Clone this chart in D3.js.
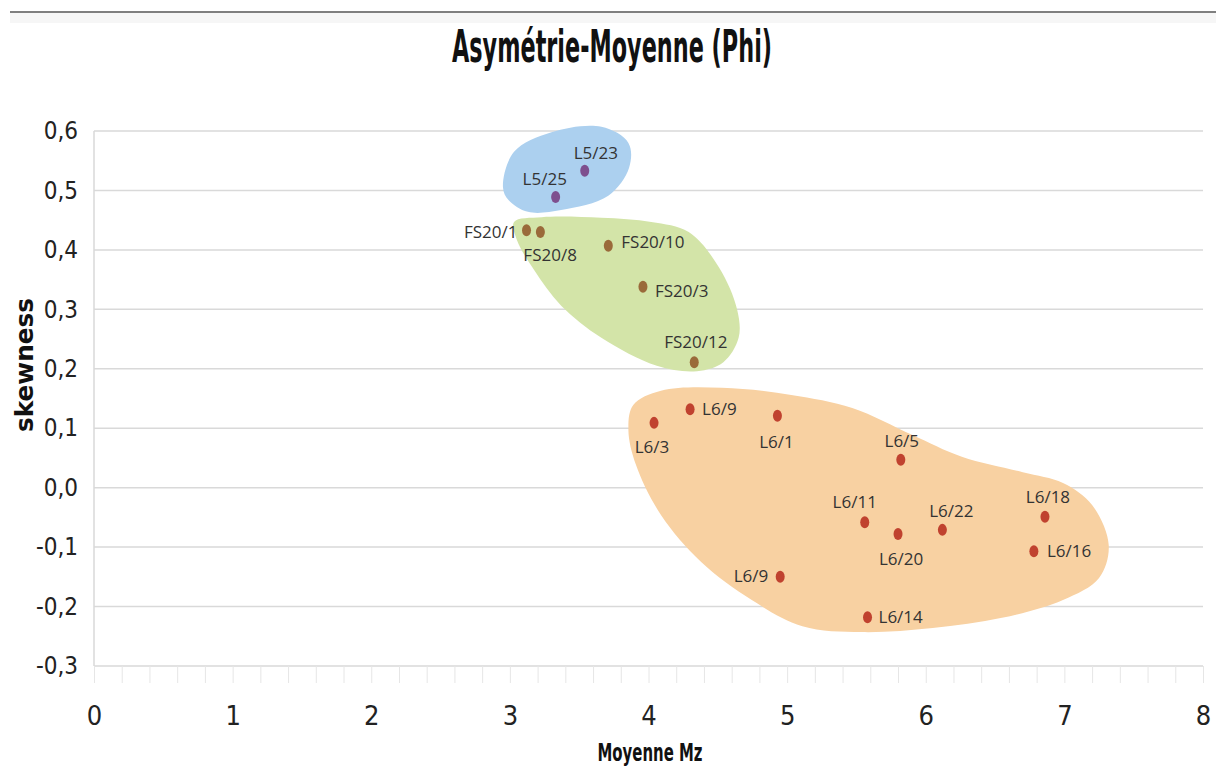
<!DOCTYPE html>
<html>
<head>
<meta charset="utf-8">
<script src="https://cdn.jsdelivr.net/npm/d3@7"></script>
<style>
  body { margin: 0; background: #fff; }
  .narrow { font-family: "Liberation Sans Narrow", "DejaVu Sans Condensed", "Roboto Condensed", sans-serif; font-stretch: condensed; }
</style>
</head>
<body>
<div id="chart"></div>
<script>
// sample labels and values (Mz, skewness)
var names = ["L5/23", "L5/25",
  "FS20/1", "FS20/8", "FS20/10", "FS20/3", "FS20/12",
  "L6/3", "L6/9", "L6/1", "L6/5", "L6/11", "L6/20", "L6/22", "L6/18", "L6/16", "L6/9", "L6/14"];
var groups = ["L5", "L5",
  "FS20", "FS20", "FS20", "FS20", "FS20",
  "L6", "L6", "L6", "L6", "L6", "L6", "L6", "L6", "L6", "L6", "L6"];
var mz = [3.54, 3.33,
  3.12, 3.22, 3.71, 3.96, 4.33,
  4.04, 4.30, 4.93, 5.82, 5.56, 5.80, 6.12, 6.86, 6.78, 4.95, 5.58];
var skew = [0.533, 0.489,
  0.433, 0.430, 0.407, 0.338, 0.211,
  0.109, 0.132, 0.121, 0.047, -0.058, -0.078, -0.071, -0.049, -0.107, -0.150, -0.218];

// hand drawn group outlines, in data units
var blobL5 = [[2.95,0.506],[3.03,0.565],[3.30,0.598],[3.66,0.607],[3.855,0.580],[3.86,0.538],
  [3.71,0.491],[3.37,0.467],[3.13,0.464],[2.99,0.484]];
var blobFS20 = [[3.03,0.447],[3.23,0.455],[3.66,0.454],[4.02,0.447],[4.29,0.430],[4.51,0.370],
  [4.64,0.299],[4.65,0.252],[4.54,0.211],[4.35,0.196],[4.06,0.205],[3.66,0.252],[3.37,0.306],
  [3.175,0.366],[3.05,0.417]];
var blobL6 = [[3.89,0.139],[4.09,0.163],[4.53,0.168],[5.03,0.156],[5.47,0.134],[5.90,0.089],
  [6.26,0.052],[6.70,0.026],[6.99,0.008],[7.20,-0.029],[7.32,-0.097],[7.25,-0.152],[6.99,-0.189],
  [6.55,-0.219],[6.05,-0.236],[5.54,-0.243],[5.11,-0.233],[4.745,-0.189],[4.38,-0.125],
  [4.09,-0.046],[3.91,0.038],[3.855,0.097]];

var xTicks = [0, 1, 2, 3, 4, 5, 6, 7, 8];
var yTicks = [0.6, 0.5, 0.4, 0.3, 0.2, 0.1, 0.0, -0.1, -0.2, -0.3];

// label placement for each point: anchor, dx, dy
var labelPos = [["start",-11,-12],["start",-33,-12],
  ["end",-9,8],["start",-17,29],["start",13,2],["start",12,10],["start",-30,-14],
  ["middle",-2,30],["start",12,6],["middle",-1,32],["middle",1,-13],["middle",-10,-14],
  ["middle",3,31],["middle",9,-13],["middle",3,-14],["start",13,6],["end",-12,5],["start",11,6]];

var dotColor = {"L5": "#7e4f8e", "FS20": "#9a6a3a", "L6": "#c0422f"};

var svgWidth = 1216, svgHeight = 776;
var svg = d3.select("#chart").append("svg")
  .attr("width", svgWidth)
  .attr("height", svgHeight);

// top rule
svg.append("rect").attr("x", 10).attr("y", 13).attr("width", svgWidth - 10).attr("height", 10)
  .attr("fill", "#f6f6f6");
svg.append("line").attr("x1", 10).attr("x2", svgWidth).attr("y1", 12).attr("y2", 12)
  .attr("stroke", "#7f7f7f").attr("stroke-width", 2);

var x = d3.scaleLinear().domain([0, 8]).range([94, 1203]);
var y = d3.scaleLinear().domain([-0.3, 0.6]).range([666, 131]);

// gridlines
svg.append("g").selectAll("line").data(yTicks).enter().append("line")
  .attr("x1", x(0)).attr("x2", x(8))
  .attr("y1", d => y(d)).attr("y2", d => y(d))
  .attr("stroke", "#d9d9d9").attr("stroke-width", 1.5);

// left axis line
svg.append("line").attr("x1", x(0)).attr("x2", x(0)).attr("y1", y(0.6)).attr("y2", y(-0.3))
  .attr("stroke", "#d9d9d9").attr("stroke-width", 1.5);

// minor ticks under the x axis
var minorAxis = d3.axisBottom(x).tickValues(d3.range(0, 41).map(i => i / 5)).tickSize(17).tickFormat("");
var gm = svg.append("g").attr("transform", `translate(0, ${y(-0.3)})`).call(minorAxis);
gm.select(".domain").remove();
gm.selectAll("line").attr("stroke", "#e6e6e6");

// tick labels
var bottomAxis = d3.axisBottom(x).tickValues(xTicks).tickSize(0).tickPadding(40).tickFormat(d3.format("d"));
var gx = svg.append("g").attr("transform", `translate(0, ${y(-0.3)})`).call(bottomAxis);
gx.select(".domain").remove();
gx.selectAll("text").attr("class", "narrow").attr("font-size", 27).attr("fill", "#222");

var leftAxis = d3.axisLeft(y).tickValues(yTicks).tickSize(0).tickPadding(16)
  .tickFormat(d => d3.format(".1f")(d).replace(".", ",").replace("−", "-"));
var gy = svg.append("g").attr("transform", `translate(${x(0)}, 0)`).call(leftAxis);
gy.select(".domain").remove();
gy.selectAll("text").attr("class", "narrow").attr("font-size", 24).attr("fill", "#222");

// group outlines
var blobLine = d3.line().x(d => x(d[0])).y(d => y(d[1])).curve(d3.curveCatmullRomClosed);
svg.append("path").attr("d", blobLine(blobL5)).attr("fill", "#acd0ef");
svg.append("path").attr("d", blobLine(blobFS20)).attr("fill", "#d3e4a8");
svg.append("path").attr("d", blobLine(blobL6)).attr("fill", "#f8d1a2");

// points
svg.append("g").selectAll("ellipse").data(mz).enter().append("ellipse")
  .attr("cx", (d, i) => x(d))
  .attr("cy", (d, i) => y(skew[i]))
  .attr("rx", 4.5).attr("ry", 6)
  .attr("fill", (d, i) => dotColor[groups[i]]);

svg.append("g").selectAll("text").data(names).enter().append("text")
  .attr("x", (d, i) => x(mz[i]) + labelPos[i][1])
  .attr("y", (d, i) => y(skew[i]) + labelPos[i][2])
  .attr("text-anchor", (d, i) => labelPos[i][0])
  .attr("font-family", "'Open Sans', sans-serif")
  .attr("font-size", 17)
  .attr("fill", "#333")
  .text(d => d);

// title
svg.append("text")
  .attr("x", 612).attr("y", 62)
  .attr("text-anchor", "middle")
  .attr("class", "narrow")
  .attr("font-size", 44).attr("font-weight", "bold")
  .attr("textLength", 320).attr("lengthAdjust", "spacingAndGlyphs")
  .attr("fill", "#111")
  .text("Asymétrie-Moyenne (Phi)");

// axis titles
svg.append("text")
  .attr("transform", "translate(33, 365) rotate(-90)")
  .attr("text-anchor", "middle")
  .attr("font-family", "'DejaVu Sans', sans-serif")
  .attr("font-size", 24).attr("font-weight", "bold")
  .attr("textLength", 134).attr("lengthAdjust", "spacingAndGlyphs")
  .attr("fill", "#111")
  .text("skewness");

svg.append("text")
  .attr("x", 650).attr("y", 761)
  .attr("text-anchor", "middle")
  .attr("class", "narrow")
  .attr("font-size", 24).attr("font-weight", "bold")
  .attr("textLength", 105).attr("lengthAdjust", "spacingAndGlyphs")
  .attr("fill", "#111")
  .text("Moyenne Mz");
</script>
</body>
</html>
